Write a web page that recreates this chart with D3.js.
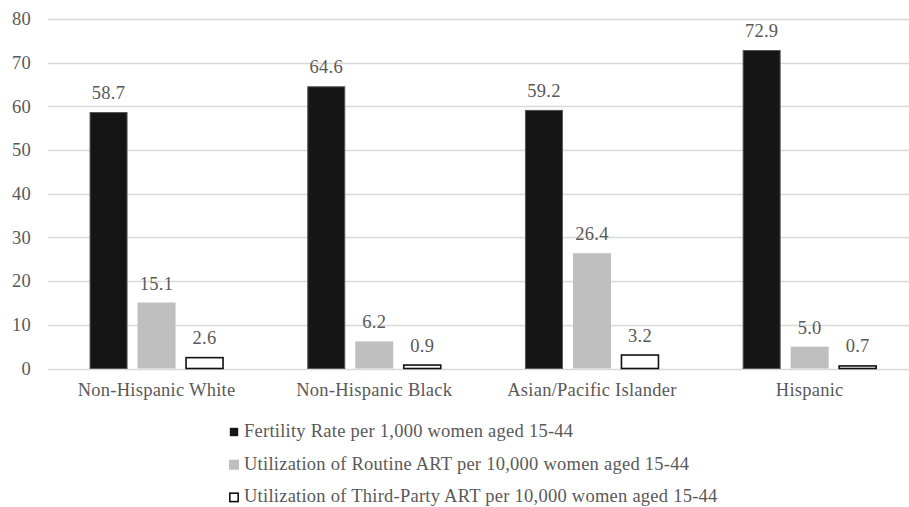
<!DOCTYPE html>
<html>
<head>
<meta charset="utf-8">
<script src="https://cdn.jsdelivr.net/npm/d3@7"></script>
<style>
  html, body { margin: 0; padding: 0; background: #fff; }
  svg { display: block; }
  text { font-family: "Liberation Serif", "Times New Roman", serif; fill: #595959; letter-spacing: 0.25px; }
</style>
</head>
<body>
<svg id="chart" width="909" height="507"></svg>
<script>
const categories = ["Non-Hispanic White", "Non-Hispanic Black", "Asian/Pacific Islander", "Hispanic"];
const seriesNames = [
  "Fertility Rate per 1,000 women aged 15-44",
  "Utilization of Routine ART per 10,000 women aged 15-44",
  "Utilization of Third-Party ART per 10,000 women aged 15-44"
];
const fertility = [58.7, 64.6, 59.2, 72.9];
const routineART = [15.1, 6.2, 26.4, 5.0];
const thirdPartyART = [2.6, 0.9, 3.2, 0.7];
const yTicks = [0, 10, 20, 30, 40, 50, 60, 70, 80];

const seriesValues = [fertility, routineART, thirdPartyART];
const fills = ["#151515", "#bfbfbf", "#ffffff"];
const strokes = ["#555555", "#bfbfbf", "#111111"];
const strokeW = [1, 0, 1.6];
const FS = 18.5;

const svg = d3.select("#chart");
const W = 909;
const y = d3.scaleLinear().domain([0, 80]).range([368.5, 19]);
const x0 = d3.scaleBand().domain(categories).range([47.7, 918.5]).paddingInner(0).paddingOuter(0);
const x1 = d3.scaleBand().domain(d3.range(3)).range([-67, 67]).paddingInner(10 / 48).paddingOuter(0);

// gridlines
svg.append("g").selectAll("line").data(yTicks).join("line")
  .attr("x1", 48).attr("x2", W)
  .attr("y1", d => Math.round(y(d)) + 0.5).attr("y2", d => Math.round(y(d)) + 0.5)
  .attr("stroke", "#d9d9d9").attr("stroke-width", 1.3);

// y tick labels
svg.append("g").selectAll("text").data(yTicks).join("text")
  .attr("x", 31).attr("y", d => y(d)).attr("dy", "0.34em")
  .attr("text-anchor", "end").attr("font-size", FS).text(d => d);

// bars
const rows = [];
categories.forEach((c, ci) => seriesValues.forEach((s, si) => rows.push({ c, si, v: s[ci] })));

const g = svg.append("g");
g.selectAll("rect").data(rows).join("rect")
  .attr("x", d => x0(d.c) + x0.bandwidth() / 2 + x1(d.si) + (strokeW[d.si] ? 0.5 : 0))
  .attr("y", d => y(d.v) + (strokeW[d.si] ? 0.5 : 0))
  .attr("width", d => x1.bandwidth() - (strokeW[d.si] ? 1 : 0))
  .attr("height", d => y(0) - y(d.v) - (strokeW[d.si] ? 0.5 : 0))
  .attr("fill", d => fills[d.si])
  .attr("stroke", d => strokeW[d.si] ? strokes[d.si] : "none")
  .attr("stroke-width", d => strokeW[d.si]);

// value labels
g.selectAll("text").data(rows).join("text")
  .attr("x", d => x0(d.c) + x0.bandwidth() / 2 + x1(d.si) + x1.bandwidth() / 2)
  .attr("y", d => y(d.v) - 13)
  .attr("text-anchor", "middle").attr("font-size", FS)
  .text(d => d.v.toFixed(1));

// category labels
svg.append("g").selectAll("text").data(categories).join("text")
  .attr("x", d => x0(d) + x0.bandwidth() / 2)
  .attr("y", 396)
  .attr("text-anchor", "middle").attr("font-size", FS)
  .text(d => d);

// legend
const leg = svg.append("g").selectAll("g").data(seriesNames).join("g")
  .attr("transform", (d, i) => `translate(229, ${427 + i * 32.7})`);
leg.append("rect")
  .attr("x", (d, i) => strokeW[i] ? 0.8 : 0).attr("y", (d, i) => strokeW[i] ? 0.8 : 0)
  .attr("width", (d, i) => strokeW[i] ? 8.4 : 10).attr("height", (d, i) => strokeW[i] ? 8.4 : 10)
  .attr("fill", (d, i) => fills[i])
  .attr("stroke", (d, i) => i === 2 ? "#111" : "none").attr("stroke-width", 1.6);
leg.append("text")
  .attr("x", 15).attr("y", 10)
  .attr("font-size", FS).text(d => d);
</script>
</body>
</html>
